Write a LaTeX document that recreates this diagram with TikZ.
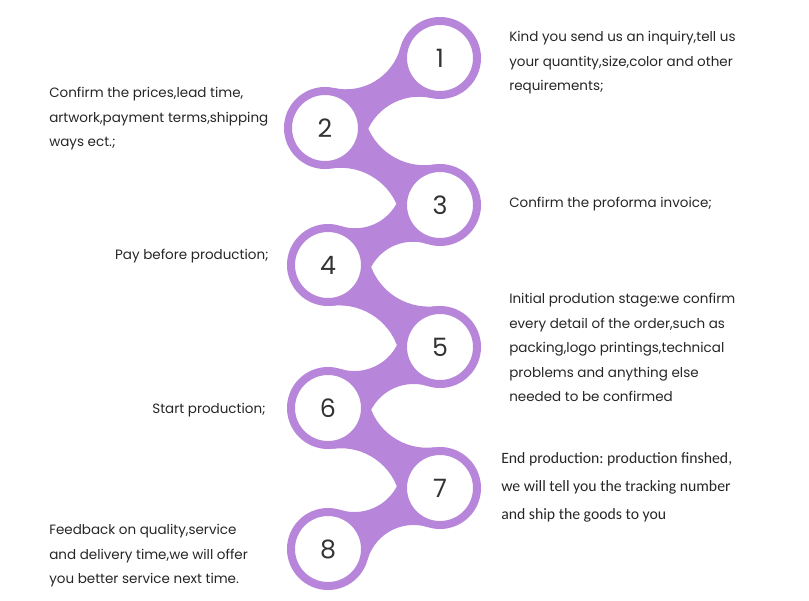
\documentclass[tikz,border=0pt]{standalone}
\usepackage{fontspec}
\setmainfont{Poppins}
\newfontfamily\calibrifont{Carlito}
\usetikzlibrary{calc,backgrounds}
\frenchspacing
\definecolor{lilac}{RGB}{183,133,217}
\tikzset{
  stepring/.style={circle,draw=lilac,line width=0.2cm,fill=white,minimum size=1.85cm,
    inner sep=0pt,font=\fontsize{18}{20}\selectfont,text=black!80},
  note/.style={align=left,inner sep=0pt,font=\fontsize{9.6}{17.4}\selectfont,text=black!85}
}

\begin{document}
\begin{tikzpicture}[x=0.025cm,y=-0.025cm]
\useasboundingbox (0,0) rectangle (809,600);
% the eight steps
\node[stepring] (c1) at (440,58) {1};
\node[stepring] (c2) at (325,128) {2};
\node[stepring] (c3) at (440,205) {3};
\node[stepring] (c4) at (328,265) {4};
\node[stepring] (c5) at (440,347) {5};
\node[stepring] (c6) at (328,408) {6};
\node[stepring] (c7) at (440,488) {7};
\node[stepring] (c8) at (328,549) {8};
% necks between the rings (fillet arcs, waist 28px)
\begin{scope}[on background layer]
\foreach \a/\b/\t/\d in {1/2/211.3/67.3,2/3/326.2/69.2,3/4/208.2/63.5,4/5/323.8/69.4,
                         5/6/208.6/63.8,6/7/324.5/68.8,7/8/208.6/63.8}{
  \pgfmathsetmacro\R{(\d*\d-1485)/54*0.025}
  \pgfmathsetmacro\g{atan2(\R/0.025+14,\d)}
  \pgfmathsetmacro\pa{\t+\g}
  \pgfmathsetmacro\pb{\t+180+\g}
  \pgfmathsetmacro\sa{\t+180+\g}
  \pgfmathsetmacro\ea{\t+360-\g}
  \pgfmathsetmacro\eb{\t+180-\g}
  \fill[lilac] ($(c\a)+(\pa:1.025cm)$) arc[start angle=\sa, end angle=\ea, radius=\R cm]
    -- ($(c\b)+(\pb:1.025cm)$) arc[start angle=\pa, end angle=\eb, radius=\R cm] -- cycle;
}
\end{scope}
% texts
\node[note,anchor=north west] (t1) at (509,31) {Kind you send us an inquiry,tell us\\your quantity,size,color and other\\requirements;};
\node[note,anchor=north west] (t2) at (49,87) {Confirm the prices,lead time,\\artwork,payment terms,shipping\\ways ect.;};
\node[note,anchor=west] (t3) at (509,204) {Confirm the proforma invoice;};
\node[note,anchor=east] (t4) at (269,256) {Pay before production;};
\node[note,anchor=north west] (t5) at (509,293) {Initial prodution stage:we confirm\\every detail of the order,such as\\packing,logo printings,technical\\problems and anything else\\needed to be confirmed};
\node[note,anchor=east] (t6) at (266,410) {Start production;};
\node[note,anchor=north west,font=\calibrifont\fontsize{11.2}{19.9}\selectfont] (t7) at (501,452) {End production: production finshed,\\we will tell you the tracking number\\and ship the goods to you};
\node[note,anchor=north west] (t8) at (49,524) {Feedback on quality,service\\and delivery time,we will offer\\you better service next time.};
\end{tikzpicture}
\end{document}
